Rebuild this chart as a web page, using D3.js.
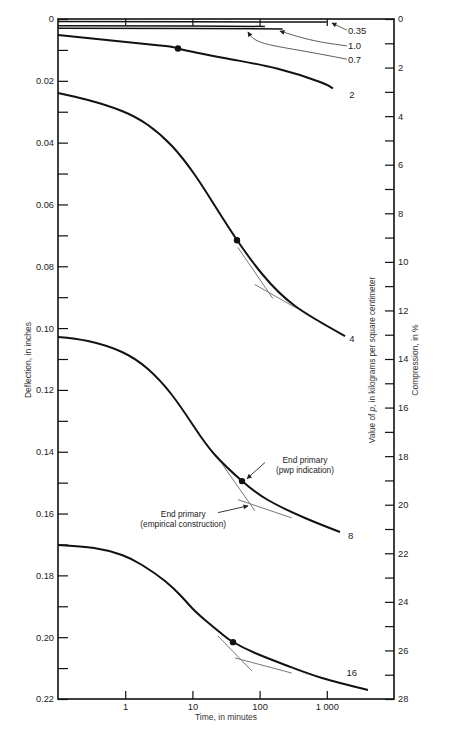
<!DOCTYPE html>
<html>
<head>
<meta charset="utf-8">
<script src="https://cdn.jsdelivr.net/npm/d3@7"></script>
<style>
  body { margin: 0; background: #fff; }
  svg { display: block; font-family: "Liberation Sans", Arial, sans-serif; }
  .tick text { fill: #222; font-size: 9.3px; }
  .tick line { stroke: #111; stroke-width: 1.2; }
</style>
</head>
<body>
<svg width="473" height="733"></svg>
<script>
// time in minutes, deflection in inches
const curve035 = [[0.1, 0.0008], [10, 0.0009], [1000, 0.0010]];
const curve07 = [[0.1, 0.0022], [10, 0.0023], [120, 0.0024]];
const curve10 = [[0.1, 0.0030], [10, 0.0031], [220, 0.0032]];
const curve2 = [[0.1, 0.00518], [3.29, 0.00857], [6.1, 0.00954], [32.7, 0.01278], [181, 0.01602], [793, 0.02038], [1236, 0.02249]];
const curve4 = [[0.1, 0.02394], [0.279, 0.02621], [0.895, 0.02976], [2.18, 0.03429], [4.97, 0.04109], [10.9, 0.05047], [21.7, 0.0605], [46.1, 0.0715], [109, 0.0825], [337, 0.09285], [1866, 0.10256]];
const curve8 = [[0.1, 0.10288], [0.279, 0.10418], [0.895, 0.10773], [2.18, 0.11324], [4.97, 0.12165], [10.9, 0.13232], [21.7, 0.14106], [54.7, 0.14947], [133, 0.15562], [474, 0.16144], [1571, 0.16597]];
const curve16 = [[0.1, 0.17018], [0.344, 0.17115], [0.895, 0.17341], [1.78, 0.17665], [3.91, 0.18182], [7.0, 0.187], [9.86, 0.19056], [15.4, 0.19444], [27.5, 0.19897], [40.2, 0.20156], [85.5, 0.20512], [265, 0.20932], [849, 0.21321], [4100, 0.21709]];

// end of primary consolidation points
const endDots = [[6.1, 0.00954], [46.1, 0.0716], [54.7, 0.1495], [40.2, 0.2016]];

// construction tangents [t1, d1, t2, d2]
const tangents = [
  [47.5, 0.0739, 157, 0.0904], [85, 0.0859, 356, 0.0936],
  [27.5, 0.1439, 85, 0.1591], [47.5, 0.1555, 300, 0.1614],
  [24, 0.1996, 76.6, 0.2109], [42.9, 0.2067, 300, 0.2116]
];

const curveLabels = [
  ["0.35", 2060, 0.0038], ["1.0", 2060, 0.0087], ["0.7", 2060, 0.0130],
  ["2", 2150, 0.0246], ["4", 2150, 0.1034], ["8", 2060, 0.1672], ["16", 1960, 0.2116]
];

// leader arrows from the small-p labels, paths in (t, d)
const leaders = [
  [[1990, 0.0036], [1190, 0.0013]],
  [[1990, 0.0087], [780, 0.0075], [380, 0.0058], [201, 0.0039]],
  [[1990, 0.0130], [380, 0.0100], [86, 0.0078], [67, 0.0042]]
];

const leftTicks = [0, 0.02, 0.04, 0.06, 0.08, 0.10, 0.12, 0.14, 0.16, 0.18, 0.20, 0.22];
const rightTicks = d3.range(0, 29, 2);
const timeTicks = [1, 10, 100, 1000];

const svg = d3.select("svg");
const L = 58, R = 394, T = 19, B = 699;

const x = d3.scaleLog().domain([0.1, 10000]).range([L, R]);
const y = d3.scaleLinear().domain([0, 0.22]).range([T, B]);
const yr = d3.scaleLinear().domain([0, 28]).range([T, B]);

// left axis
svg.append("g")
  .attr("transform", `translate(${L},0)`)
  .call(d3.axisLeft(y).tickValues(leftTicks).tickSizeInner(-10).tickSizeOuter(0).tickPadding(4)
    .tickFormat(d => d === 0 ? "0" : d3.format(".2f")(d)))
  .call(g => g.select(".domain").remove());
svg.append("g")
  .attr("transform", `translate(${L},0)`)
  .call(d3.axisLeft(y).tickValues(d3.range(0.01, 0.22, 0.02)).tickSizeInner(-10).tickSizeOuter(0).tickFormat(""))
  .call(g => g.select(".domain").remove());

// right axis
svg.append("g")
  .attr("transform", `translate(${R},0)`)
  .call(d3.axisRight(yr).tickValues(rightTicks).tickSizeInner(-9).tickSizeOuter(0).tickPadding(4))
  .call(g => g.select(".domain").remove());
svg.append("g")
  .attr("transform", `translate(${R},0)`)
  .call(d3.axisRight(yr).tickValues(d3.range(1, 28, 2)).tickSizeInner(-9).tickSizeOuter(0).tickFormat(""))
  .call(g => g.select(".domain").remove());

// bottom and top axes
svg.append("g")
  .attr("transform", `translate(0,${B})`)
  .call(d3.axisBottom(x).tickValues(timeTicks).tickSizeInner(-8).tickSizeOuter(0).tickPadding(4)
    .tickFormat(d => d === 1000 ? "1 000" : d))
  .call(g => g.select(".domain").remove());
svg.append("g")
  .attr("transform", `translate(0,${T})`)
  .call(d3.axisTop(x).tickValues(timeTicks).tickSizeInner(-7).tickSizeOuter(0).tickFormat(""))
  .call(g => g.select(".domain").remove());

// frame
svg.append("rect")
  .attr("x", L).attr("y", T).attr("width", R - L).attr("height", B - T)
  .attr("fill", "none").attr("stroke", "#111").attr("stroke-width", 1.6);

// axis titles
svg.append("text")
  .attr("transform", "translate(31,360) rotate(-90)")
  .attr("text-anchor", "middle").attr("font-size", 8.5).attr("fill", "#333")
  .text("Deflection, in inches");
const vt = svg.append("text")
  .attr("transform", "translate(375,360) rotate(-90)")
  .attr("text-anchor", "middle").attr("font-size", 8.2).attr("fill", "#333");
vt.append("tspan").text("Value of ");
vt.append("tspan").attr("font-style", "italic").text("p");
vt.append("tspan").text(", in kilograms per square centimeter");
svg.append("text")
  .attr("transform", "translate(418,360) rotate(-90)")
  .attr("text-anchor", "middle").attr("font-size", 8.5).attr("fill", "#333")
  .text("Compression, in %");
svg.append("text")
  .attr("x", (L + R) / 2).attr("y", 720)
  .attr("text-anchor", "middle").attr("font-size", 8.5).attr("fill", "#333")
  .text("Time, in minutes");

// curves
const line = d3.line().x(d => x(d[0])).y(d => y(d[1])).curve(d3.curveNatural);
const thin = [curve035, curve07, curve10];
const thick = [curve2, curve4, curve8, curve16];

svg.append("g").selectAll("path").data(thin).join("path")
  .attr("d", line).attr("fill", "none").attr("stroke", "#111").attr("stroke-width", 1.5);
svg.append("g").selectAll("path").data(thick).join("path")
  .attr("d", line).attr("fill", "none").attr("stroke", "#111").attr("stroke-width", 2);

svg.append("g").selectAll("line").data(tangents).join("line")
  .attr("x1", d => x(d[0])).attr("y1", d => y(d[1]))
  .attr("x2", d => x(d[2])).attr("y2", d => y(d[3]))
  .attr("stroke", "#777").attr("stroke-width", 1);

svg.append("g").selectAll("circle").data(endDots).join("circle")
  .attr("cx", d => x(d[0])).attr("cy", d => y(d[1])).attr("r", 3.2).attr("fill", "#111");

svg.append("g").selectAll("text").data(curveLabels).join("text")
  .attr("x", d => x(d[1])).attr("y", d => y(d[2]))
  .attr("dy", "0.35em").attr("font-size", 9.5).attr("fill", "#222")
  .text(d => d[0]);

// arrow markers
svg.append("defs").append("marker")
  .attr("id", "arr").attr("viewBox", "0 0 10 10").attr("refX", 9).attr("refY", 5)
  .attr("markerWidth", 7).attr("markerHeight", 5).attr("markerUnits", "userSpaceOnUse")
  .attr("orient", "auto")
  .append("path").attr("d", "M0,0L10,5L0,10Z").attr("fill", "#222");

const leaderLine = d3.line().x(d => x(d[0])).y(d => y(d[1])).curve(d3.curveBasis);
svg.append("g").selectAll("path").data(leaders).join("path")
  .attr("d", leaderLine).attr("fill", "none").attr("stroke", "#333").attr("stroke-width", 0.8)
  .attr("marker-end", "url(#arr)");

// End primary annotations
const notes = [
  { lines: ["End primary", "(pwp indication)"], t: 473, d: 0.1426, from: [120, 0.1435], to: [65, 0.1487] },
  { lines: ["End primary", "(empirical construction)"], t: 7.3, d: 0.1601, from: [24.1, 0.1597], to: [67.3, 0.1575] }
];
notes.forEach(n => {
  const tx = svg.append("text").attr("text-anchor", "middle").attr("font-size", 8.3).attr("fill", "#222");
  n.lines.forEach((s, i) => tx.append("tspan").attr("x", x(n.t)).attr("y", y(n.d) + i * 10.5).attr("dy", "0.35em").text(s));
  svg.append("line")
    .attr("x1", x(n.from[0])).attr("y1", y(n.from[1]))
    .attr("x2", x(n.to[0])).attr("y2", y(n.to[1]))
    .attr("stroke", "#222").attr("stroke-width", 0.9).attr("marker-end", "url(#arr)");
});
</script>
</body>
</html>
